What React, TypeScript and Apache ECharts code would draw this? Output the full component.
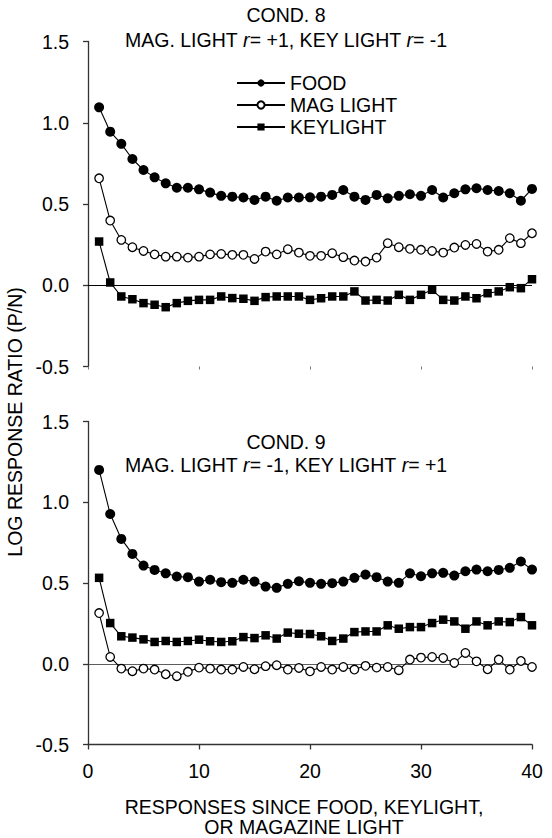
import React, { useEffect, useRef } from "react";
import * as echarts from "echarts";

const responses = [1, 2, 3, 4, 5, 6, 7, 8, 9, 10, 11, 12, 13, 14, 15, 16, 17, 18, 19, 20, 21, 22, 23, 24, 25, 26, 27, 28, 29, 30, 31, 32, 33, 34, 35, 36, 37, 38, 39, 40];

const cond8Food = [1.095, 0.945, 0.87, 0.777, 0.709, 0.664, 0.627, 0.6, 0.6, 0.59, 0.57, 0.55, 0.545, 0.54, 0.525, 0.545, 0.52, 0.54, 0.54, 0.541, 0.545, 0.556, 0.586, 0.545, 0.525, 0.556, 0.535, 0.55, 0.56, 0.55, 0.586, 0.54, 0.566, 0.59, 0.597, 0.586, 0.58, 0.566, 0.52, 0.593];
const cond8Mag = [0.658, 0.398, 0.279, 0.234, 0.211, 0.19, 0.176, 0.176, 0.17, 0.176, 0.19, 0.193, 0.187, 0.187, 0.162, 0.207, 0.19, 0.222, 0.201, 0.181, 0.181, 0.197, 0.173, 0.152, 0.146, 0.17, 0.259, 0.234, 0.224, 0.218, 0.211, 0.201, 0.232, 0.248, 0.254, 0.207, 0.218, 0.29, 0.259, 0.32];
const cond8Key = [0.269, 0.017, -0.069, -0.086, -0.11, -0.12, -0.135, -0.11, -0.096, -0.09, -0.09, -0.069, -0.079, -0.083, -0.096, -0.073, -0.069, -0.069, -0.069, -0.09, -0.08, -0.069, -0.069, -0.038, -0.094, -0.09, -0.094, -0.059, -0.09, -0.059, -0.028, -0.09, -0.094, -0.069, -0.08, -0.049, -0.038, -0.012, -0.018, 0.037];

const cond9Food = [1.2, 0.927, 0.773, 0.68, 0.608, 0.581, 0.56, 0.54, 0.536, 0.509, 0.52, 0.505, 0.501, 0.52, 0.509, 0.478, 0.47, 0.495, 0.511, 0.501, 0.495, 0.499, 0.509, 0.532, 0.552, 0.536, 0.509, 0.501, 0.56, 0.542, 0.56, 0.563, 0.546, 0.573, 0.583, 0.573, 0.581, 0.594, 0.633, 0.583];
const cond9Mag = [0.314, 0.042, -0.03, -0.046, -0.03, -0.036, -0.065, -0.077, -0.05, -0.024, -0.03, -0.036, -0.036, -0.02, -0.034, -0.015, -0.009, -0.036, -0.026, -0.047, -0.02, -0.036, -0.02, -0.036, -0.013, -0.024, -0.02, -0.04, 0.026, 0.038, 0.042, 0.036, 0.005, 0.067, 0.015, -0.034, 0.026, -0.036, 0.017, -0.02];
const cond9Key = [0.532, 0.252, 0.17, 0.162, 0.151, 0.135, 0.141, 0.135, 0.141, 0.149, 0.139, 0.135, 0.139, 0.165, 0.159, 0.176, 0.156, 0.193, 0.186, 0.184, 0.17, 0.141, 0.156, 0.196, 0.2, 0.2, 0.238, 0.217, 0.227, 0.227, 0.252, 0.273, 0.262, 0.217, 0.262, 0.238, 0.262, 0.258, 0.289, 0.238];

const seriesNames = ["FOOD", "MAG LIGHT", "KEYLIGHT"];
const panelTitles = ["COND. 8", "COND. 9"];
const panelSubtitles = [
  "MAG. LIGHT {it|r}= +1, KEY LIGHT {it|r}= -1",
  "MAG. LIGHT {it|r}= -1, KEY LIGHT {it|r}= +1",
];
const yAxisTitle = "LOG RESPONSE RATIO (P/N)";
const xAxisTitle = ["RESPONSES SINCE FOOD, KEYLIGHT,", "OR MAGAZINE LIGHT"];

const FONT = "'Liberation Sans', Arial, Helvetica, sans-serif";
const FS = 19.5;

export default function App() {
  const ref = useRef<HTMLDivElement>(null);
  useEffect(() => {
    if (!ref.current) return;
    const chart = echarts.init(ref.current, null, { renderer: "svg" });
    const pair = (vals: number[]) => responses.map((x, i) => [x, vals[i]]);

    const styles: any = {
      FOOD: { symbol: "circle", symbolSize: 10, itemStyle: { color: "#000", borderColor: "#000", borderWidth: 0 } },
      "MAG LIGHT": { symbol: "circle", symbolSize: 8.5, itemStyle: { color: "#fff", borderColor: "#000", borderWidth: 1.3 } },
      KEYLIGHT: { symbol: "rect", symbolSize: 8.5, itemStyle: { color: "#000", borderColor: "#000", borderWidth: 0 } },
    };

    const mk = (name: string, vals: number[], idx: number, zero?: any) => ({
      type: "line",
      name,
      xAxisIndex: idx,
      yAxisIndex: idx,
      data: pair(vals),
      showSymbol: true,
      ...styles[name],
      lineStyle: { color: "#000", width: 1.1 },
      z: 3,
      ...(zero ? { markLine: zero } : {}),
    });

    const zeroLine = (color: string, width: number) => ({
      silent: true,
      symbol: "none",
      label: { show: false },
      lineStyle: { color, width, type: "solid" },
      data: [{ yAxis: 0 }],
      z: 1,
    });

    const yAxisBase = (gi: number) => ({
      type: "value",
      gridIndex: gi,
      min: -0.5,
      max: 1.5,
      interval: 0.5,
      axisLine: { show: true, lineStyle: { color: "#333", width: 1.3 } },
      axisTick: { show: true, inside: false, length: 5, lineStyle: { color: "#333", width: 1.3 } },
      axisLabel: { fontSize: FS, fontFamily: FONT, color: "#000", margin: 19, formatter: (v: number) => v.toFixed(1) },
      splitLine: { show: false },
    });

    const legendFor = (name: string, top: number) => ({
      data: [name],
      left: 236,
      top,
      padding: 0,
      orient: "vertical",
      itemWidth: 48,
      itemHeight: 9,
      selectedMode: false,
      textStyle: { fontSize: FS, fontFamily: FONT, color: "#000" },
    });

    const option: any = {
      animation: false,
      backgroundColor: "#fff",
      grid: [
        { left: 88, right: 20, top: 41.5, height: 325, outerBoundsMode: "none" },
        { left: 88, right: 20, top: 421.5, height: 323, outerBoundsMode: "none" },
      ],
      xAxis: [
        {
          type: "value", gridIndex: 0, min: 0, max: 40, interval: 10,
          axisLine: { show: true, onZero: false, lineStyle: { color: "rgba(0,0,0,0)" } },
          axisTick: { show: true, length: 3, lineStyle: { color: "#777", width: 1 } },
          axisLabel: { show: false },
          splitLine: { show: false },
        },
        {
          type: "value", gridIndex: 1, min: 0, max: 40, interval: 10,
          axisLine: { show: true, onZero: false, lineStyle: { color: "#333", width: 1.3 } },
          axisTick: { show: true, length: 5, lineStyle: { color: "#333", width: 1.3 } },
          axisLabel: { fontSize: FS, fontFamily: FONT, color: "#000", margin: 16 },
          splitLine: { show: false },
        },
      ],
      yAxis: [yAxisBase(0), yAxisBase(1)],
      legend: [
        legendFor(seriesNames[0], 73),
        legendFor(seriesNames[1], 95),
        legendFor(seriesNames[2], 117),
      ],
      series: [
        mk("FOOD", cond8Food, 0, zeroLine("#000", 1)),
        mk("MAG LIGHT", cond8Mag, 0),
        mk("KEYLIGHT", cond8Key, 0),
        mk("FOOD", cond9Food, 1, zeroLine("#333", 0.8)),
        mk("MAG LIGHT", cond9Mag, 1),
        mk("KEYLIGHT", cond9Key, 1),
      ],
      graphic: [
        { type: "text", x: 286, y: 15, style: { text: panelTitles[0], fontSize: FS, fontFamily: FONT, fill: "#000", textAlign: "center", textVerticalAlign: "middle" } },
        { type: "text", x: 286, y: 40, style: { text: panelSubtitles[0], fontSize: FS, fontFamily: FONT, fill: "#000", textAlign: "center", textVerticalAlign: "middle", rich: { it: { fontStyle: "italic", fontSize: FS, fontFamily: FONT, fill: "#000" } } } },
        { type: "text", x: 286, y: 442, style: { text: panelTitles[1], fontSize: FS, fontFamily: FONT, fill: "#000", textAlign: "center", textVerticalAlign: "middle" } },
        { type: "text", x: 286, y: 465, style: { text: panelSubtitles[1], fontSize: FS, fontFamily: FONT, fill: "#000", textAlign: "center", textVerticalAlign: "middle", rich: { it: { fontStyle: "italic", fontSize: FS, fontFamily: FONT, fill: "#000" } } } },
        { type: "text", x: 15, y: 422, rotation: Math.PI / 2, style: { text: yAxisTitle, fontSize: FS, fontFamily: FONT, fill: "#000", textAlign: "center", textVerticalAlign: "middle" } },
        { type: "text", x: 304, y: 807, style: { text: xAxisTitle[0], fontSize: FS, fontFamily: FONT, fill: "#000", textAlign: "center", textVerticalAlign: "middle" } },
        { type: "text", x: 304, y: 827, style: { text: xAxisTitle[1], fontSize: FS, fontFamily: FONT, fill: "#000", textAlign: "center", textVerticalAlign: "middle" } },
      ],
    };
    chart.setOption(option);
    return () => chart.dispose();
  }, []);
  return <div ref={ref} style={{ position: "absolute", left: 0, top: 0, width: 552, height: 838 }} />;
}
